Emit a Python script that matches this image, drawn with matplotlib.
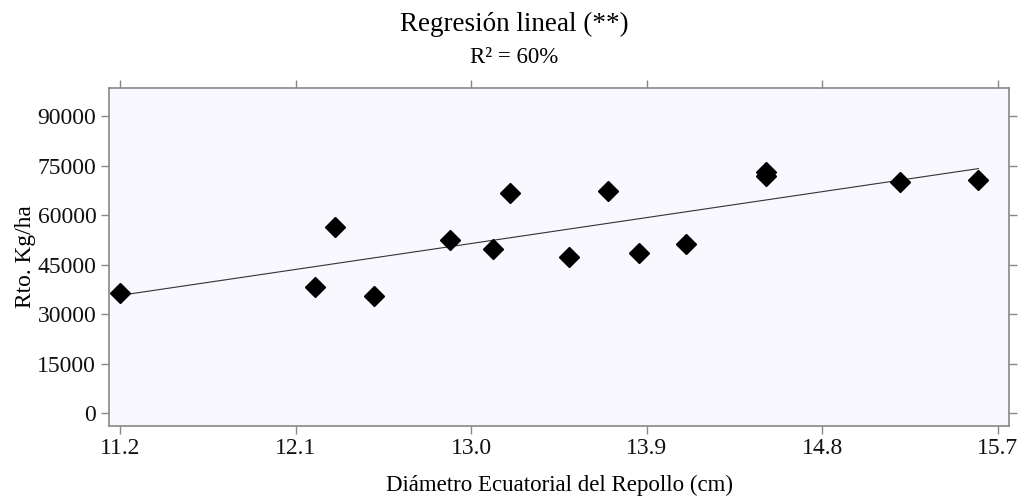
import numpy as np
import matplotlib.pyplot as plt

plt.rcParams['font.family'] = ['Liberation Serif', 'DejaVu Serif']

# diámetro ecuatorial (cm) y rendimiento (kg/ha)
diametro = [11.2, 12.2, 12.3, 12.5, 12.89, 13.11, 13.2, 13.5, 13.7, 13.86, 14.1, 14.51, 14.51, 15.2, 15.6]
rto = [36500, 38300, 56500, 35600, 52500, 49600, 66600, 47200, 67400, 48400, 51300, 73000, 71900, 70100, 70600]

xticks = [11.2, 12.1, 13.0, 13.9, 14.8, 15.7]
yticks = [0, 15000, 30000, 45000, 60000, 75000, 90000]

x = np.array(diametro)
y = np.array(rto)
b, a = np.polyfit(x, y, 1)
xr = np.array([x.min(), x.max()])

fig = plt.figure(figsize=(10.26, 4.99), dpi=100)
ax = fig.add_axes([0.106, 0.147, 0.8777, 0.676])
ax.set_facecolor('#f8f8fe')

ax.plot(xr, a + b * xr, color='#333333', lw=0.8, zorder=2)
ax.plot(x, y, 'D', color='black', ms=9.8, zorder=3)

ax.set_xlim(11.142, 15.758)
ax.set_ylim(-3750, 98400)
ax.set_xticks(xticks)
ax.set_xticklabels(['%.1f' % t for t in xticks])
ax.set_yticks(yticks)
ax.tick_params(axis='both', which='both', direction='out', length=6, width=1,
               color='#888888', labelsize=17, labelcolor='#111111',
               top=True, right=True, labeltop=False, labelright=False, pad=3)
for s in ax.spines.values():
    s.set_color('#888888')
    s.set_linewidth(1.2)

ax.set_xlabel('Diámetro Ecuatorial del Repollo (cm)', fontsize=16.5, labelpad=11)
ax.set_ylabel('Rto. Kg/ha', fontsize=16.8, labelpad=1)

fig.text(0.5015, 0.952, 'Regresión lineal (**)', ha='center', va='center', fontsize=19.5)
fig.text(0.5015, 0.884, 'R² = 60%', ha='center', va='center', fontsize=16.5)

fig.savefig('out.png', dpi=100)
